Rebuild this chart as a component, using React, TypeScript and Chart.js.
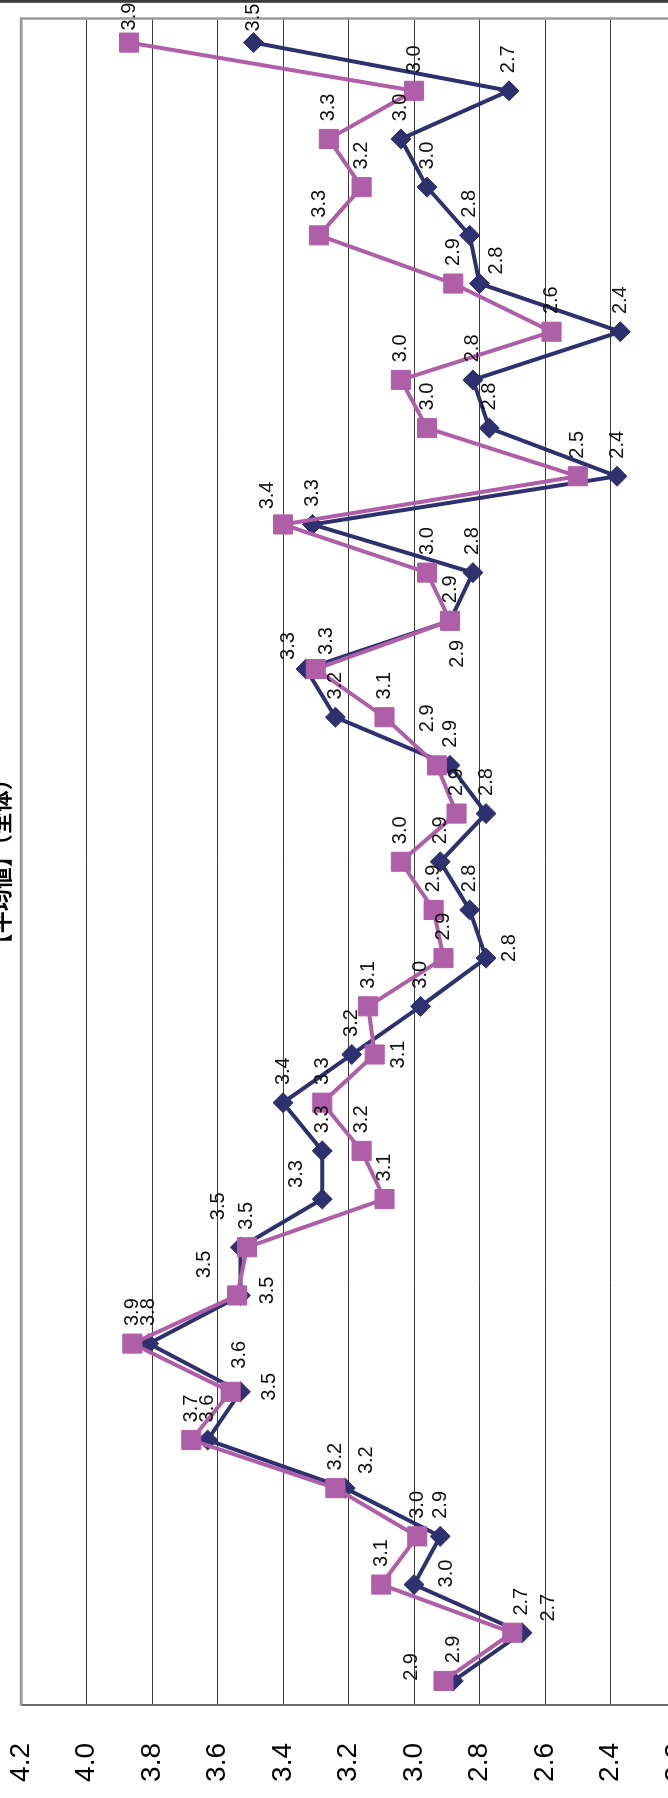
import React, { useEffect, useRef } from 'react';
import { Chart, registerables } from 'chart.js';

Chart.register(...registerables);

// ---------- data (original, un-rotated orientation: left -> right) ----------
const categories = [
  '1', '2', '3', '4', '5', '6', '7', '8', '9', '10',
  '11', '12', '13', '14', '15', '16', '17', '18', '19', '20',
  '21', '22', '23', '24', '25', '26', '27', '28', '29', '30',
  '31', '32', '33', '34', '35',
];

const seriesNames = ['前回', '今回'];

const seriesNavy = [
  2.88, 2.67, 3.0, 2.92, 3.21, 3.63, 3.53, 3.81, 3.53, 3.53,
  3.28, 3.28, 3.4, 3.19, 2.98, 2.78, 2.83, 2.92, 2.78, 2.89,
  3.24, 3.33, 2.89, 2.82, 3.31, 2.38, 2.77, 2.82, 2.37, 2.8,
  2.83, 2.96, 3.04, 2.71, 3.49,
];

const seriesPink = [
  2.91, 2.7, 3.1, 2.99, 3.24, 3.68, 3.56, 3.86, 3.54, 3.51,
  3.09, 3.16, 3.28, 3.12, 3.14, 2.91, 2.94, 3.04, 2.87, 2.93,
  3.09, 3.3, 2.89, 2.96, 3.4, 2.5, 2.96, 3.04, 2.58, 2.88,
  3.29, 3.16, 3.26, 3.0, 3.87,
];

const valueTicks = [2.2, 2.4, 2.6, 2.8, 3.0, 3.2, 3.4, 3.6, 3.8, 4.0, 4.2];

const chartTitle = '【平均値】（全体）';

// ---------- styling ----------
const NAVY = '#2F306E';
const PINK = '#AF5FA7';
const FONT = '"Liberation Sans", Arial, sans-serif';

const W = 1798; // original width  (becomes page height after rotation)
const H = 776; // original height (becomes page width, partly cropped)
const T = 40; // cropped top part of original
const PLOT_TOP = T + 21;
const PLOT_BOTTOM = T + 676;
const PLOT_LEFT = 93;
const PLOT_RIGHT = 1779.5;

const DEFAULT_LABEL_OFFSET: [number, number] = [31.5, 0];
const labelOffsetsNavy: Record<number, [number, number]> = {
  34: [25, 0],
  29: [23, 17],
  22: [-33, 7],
  21: [23, -17],
  15: [10, 23],
  10: [25, -26],
  9: [41, -22],
  8: [5, 27],
  6: [5, 29],
  4: [28, 21],
  2: [11, 32],
  1: [25, 26],
};
const labelOffsetsPink: Record<number, [number, number]> = {
  34: [26, 0],
  24: [29, -16],
  21: [28, 11],
  19: [47, -9],
  13: [0, 24],
  8: [31, -33],
  6: [37, 9],
  1: [31, 9],
  0: [14, -32],
};

export default function App() {
  const canvasRef = useRef<HTMLCanvasElement>(null);

  useEffect(() => {
    const canvas = canvasRef.current;
    if (!canvas) return;

    const offsets = [labelOffsetsNavy, labelOffsetsPink];

    const decor = {
      id: 'decor',
      beforeDatasetsDraw(chart: any) {
        const { ctx, chartArea: a } = chart;
        ctx.save();
        ctx.strokeStyle = '#9a9a9a';
        ctx.lineWidth = 2.5;
        ctx.beginPath();
        ctx.moveTo(a.right, a.top - 1);
        ctx.lineTo(a.right, a.bottom + 40);
        ctx.stroke();
        ctx.beginPath();
        ctx.moveTo(a.left - 1, a.top);
        ctx.lineTo(a.right + 1, a.top);
        ctx.stroke();
        ctx.restore();
      },
      afterDatasetsDraw(chart: any) {
        const { ctx } = chart;
        ctx.save();
        ctx.font = `20px ${FONT}`;
        ctx.fillStyle = '#111';
        ctx.textAlign = 'center';
        ctx.textBaseline = 'middle';
        chart.data.datasets.forEach((ds: any, di: number) => {
          const meta = chart.getDatasetMeta(di);
          meta.data.forEach((pt: any, j: number) => {
            const v = ds.data[j] as number;
            const off = offsets[di][j] || DEFAULT_LABEL_OFFSET;
            ctx.fillText(v.toFixed(1), pt.x + off[0], pt.y + off[1]);
          });
        });
        ctx.restore();
      },
      afterDraw(chart: any) {
        const { ctx, chartArea: a } = chart;
        ctx.save();
        ctx.font = `bold 22px "Noto Sans CJK JP", sans-serif`;
        ctx.fillStyle = '#000';
        ctx.textAlign = 'center';
        ctx.textBaseline = 'alphabetic';
        ctx.fillText(chartTitle, (a.left + a.right) / 2, T + 9);
        ctx.fillStyle = '#3c3c3c';
        ctx.fillRect(W - 2.8, 0, 2.8, H);
        ctx.restore();
      },
    };

    const chart = new Chart(canvas, {
      type: 'line',
      data: {
        labels: categories,
        datasets: [
          {
            label: seriesNames[0],
            data: seriesNavy,
            borderColor: NAVY,
            backgroundColor: NAVY,
            borderWidth: 4,
            pointStyle: 'rectRot',
            pointRadius: 10,
            pointBorderWidth: 1,
            pointBorderColor: NAVY,
            pointBackgroundColor: NAVY,
            order: 2,
          },
          {
            label: seriesNames[1],
            data: seriesPink,
            borderColor: PINK,
            backgroundColor: PINK,
            borderWidth: 4,
            pointStyle: 'rect',
            pointRadius: 13.5,
            pointBorderWidth: 1,
            pointBorderColor: PINK,
            pointBackgroundColor: PINK,
            order: 1,
          },
        ],
      },
      options: {
        responsive: false,
        animation: false,
        devicePixelRatio: 1,
        layout: {
          padding: {
            top: PLOT_TOP,
            bottom: H - PLOT_BOTTOM,
            left: 0,
            right: W - PLOT_RIGHT,
          },
        },
        elements: { line: { tension: 0 } },
        plugins: {
          legend: { display: false },
          tooltip: { enabled: false },
          title: { display: false },
        },
        scales: {
          x: {
            type: 'category',
            display: false,
            offset: true,
          },
          y: {
            type: 'linear',
            min: 2.2,
            max: 4.2,
            afterFit(scale: any) {
              scale.width = PLOT_LEFT;
            },
            afterBuildTicks(scale: any) {
              scale.ticks = valueTicks.map((v) => ({ value: v }));
            },
            ticks: {
              padding: 38,
              color: '#000',
              font: { family: FONT, size: 28 },
              callback: (v: any) => Number(v).toFixed(1),
            },
            grid: {
              drawTicks: false,
              color: (c: any) =>
                c.tick && Math.abs(c.tick.value - 4.2) < 1e-6 ? '#9a9a9a' : '#3a3a3a',
              lineWidth: (c: any) =>
                c.tick && Math.abs(c.tick.value - 4.2) < 1e-6 ? 2.5 : 1,
            },
            border: { display: true, color: '#6a6a6a', width: 2 },
          },
        },
      },
      plugins: [decor],
    } as any);

    return () => chart.destroy();
  }, []);

  return (
    <div
      style={{
        position: 'fixed',
        left: 0,
        top: 0,
        width: 668,
        height: 1798,
        overflow: 'hidden',
        background: '#fff',
      }}
    >
      <div
        style={{
          position: 'absolute',
          left: 0,
          top: 0,
          width: W,
          height: H,
          transformOrigin: '0 0',
          transform: `translate(${-T}px, ${W}px) rotate(-90deg)`,
        }}
      >
        <canvas
          ref={canvasRef}
          width={W}
          height={H}
          style={{ width: W, height: H, display: 'block' }}
        />
      </div>
    </div>
  );
}
